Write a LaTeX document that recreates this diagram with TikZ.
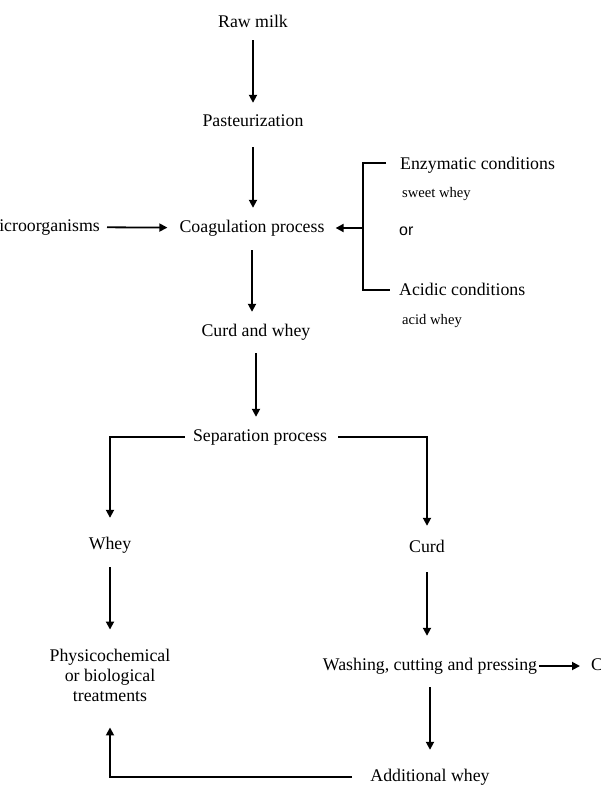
\documentclass[tikz,border=0pt]{standalone}
\usepackage{fontspec}
\setmainfont{Liberation Serif}
\newfontfamily\orfont{Liberation Sans}
\usetikzlibrary{arrows.meta}
\begin{document}
\begin{tikzpicture}[x=1pt,y=-1pt,
  lbl/.style={inner sep=0pt, text height=12.5pt, text depth=3.5pt, font=\fontsize{17.8}{20}\selectfont},
  small/.style={inner sep=0pt, font=\fontsize{14.6}{17}\selectfont, anchor=west},
  conn/.style={line width=1.8pt},
  arr/.style={conn, -{Triangle[length=8pt,width=8pt]}}]
\useasboundingbox (0,0) rectangle (600,802);
\clip (0,0) rectangle (600,802);
\node[lbl] (raw) at (253,23) {Raw milk};
\node[lbl] (past) at (253,122) {Pasteurization};
\node[lbl] (coag) at (252,228) {Coagulation process};
\node[lbl, anchor=east] (micro) at (100,227) {Microorganisms};
\node[lbl, anchor=west] (enz) at (400,165) {Enzymatic conditions};
\node[small] (sweet) at (402,194) {sweet whey};
\node[inner sep=0pt, anchor=west, font=\orfont\fontsize{16}{18}\selectfont] (or) at (399,231) {or};
\node[lbl, anchor=west] (acid) at (399,291) {Acidic conditions};
\node[small] (acidw) at (402,321) {acid whey};
\node[lbl] (cw) at (256,332) {Curd and whey};
\node[lbl] (sep) at (260,437) {Separation process};
\node[lbl] (whey) at (110,545) {Whey};
\node[lbl] (curd) at (427,548) {Curd};
\node[inner sep=0pt, align=center, font=\fontsize{17.8}{20}\selectfont] (phys) at (110,675) {Physicochemical\\or biological\\treatments};
\node[lbl] (wash) at (430,666) {Washing, cutting and pressing};
\node[lbl, anchor=west] (cheese) at (591,666) {Cheese};
\node[lbl] (addw) at (430,777) {Additional whey};
% bracket
\coordinate (bt) at (363,163);
\coordinate (bb) at (363,290);
\coordinate (bm) at (363,228);
\coordinate (btr) at (386,163);
\coordinate (bbr) at (390,290);
\draw[conn] (btr) -- (bt) -- (bb) -- (bbr);
\draw[arr, shorten >=11pt] (bm) -- (coag.east);
% arrows
\draw[arr, shorten <=9pt, shorten >=11pt] (raw) -- (past);
\draw[arr, shorten <=17pt, shorten >=12pt] (past.south) -- (past.south |- coag.north);
\draw[arr, shorten <=7pt, shorten >=12pt] (micro) -- (coag);
\draw[arr, shorten <=14pt, shorten >=12pt] (coag.south) -- (coag.south |- cw.north);
\draw[arr, shorten <=13pt, shorten >=12pt] (cw.south) -- (cw.south |- sep.north);
\draw[arr, shorten <=8pt, shorten >=19pt] (sep.west) -| (whey.north);
\draw[arr, shorten <=11pt, shorten >=14pt] (sep.east) -| (curd.north);
\draw[arr, shorten <=14pt, shorten >=19pt] (whey) -- (phys);
\draw[arr, shorten <=16pt, shorten >=22pt] (curd.south) -- (curd.south |- wash.north);
\draw[arr, shorten <=2pt, shorten >=11pt] (wash) -- (cheese);
\draw[arr, shorten <=13pt, shorten >=19pt] (wash) -- (addw);
\draw[arr, shorten <=18pt, shorten >=26pt] (addw.west) -| (phys.south);
\end{tikzpicture}
\end{document}
